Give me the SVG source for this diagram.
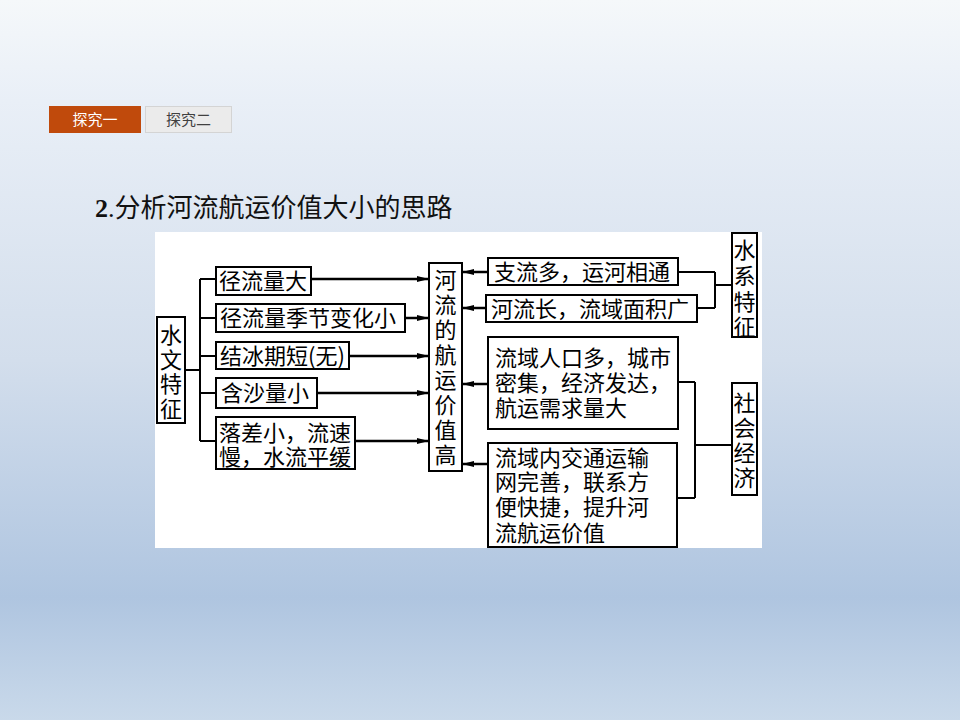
<svg xmlns="http://www.w3.org/2000/svg" width="960" height="720" viewBox="0 0 960 720">
<defs>
<linearGradient id="bg" x1="0" y1="0" x2="0" y2="1">
<stop offset="0" stop-color="#F5F8FA"/>
<stop offset="0.14" stop-color="#E9EFF7"/>
<stop offset="0.5" stop-color="#D3DEEC"/>
<stop offset="0.83" stop-color="#AFC5E0"/>
<stop offset="1" stop-color="#C9D9EA"/>
</linearGradient>
<marker id="arr" viewBox="0 0 12 8" refX="12" refY="4" markerWidth="12" markerHeight="8" markerUnits="userSpaceOnUse" orient="auto">
<path d="M0,1 L12,4 L0,7 z" fill="#000"/>
</marker>
<style>
.box{fill:#fff;stroke:#000;stroke-width:2}
.t{font-family:"Noto Sans CJK SC","Noto Sans CJK JP",sans-serif;font-size:22px;fill:#000}
.vt{font-family:"Noto Sans CJK SC","Noto Sans CJK JP",sans-serif;font-size:22px;fill:#000;writing-mode:vertical-rl}
.ln{fill:none;stroke:#000;stroke-width:2}
.ar{fill:none;stroke:#000;stroke-width:2.5;marker-end:url(#arr)}
.tab{font-family:"Noto Sans CJK SC","Microsoft YaHei",sans-serif;font-size:15px;text-anchor:middle}
</style>
</defs>
<rect x="0" y="0" width="960" height="720" fill="url(#bg)"/>

<g id="tab1">
<rect x="49" y="106" width="92" height="27" fill="#C04A0C"/>
<text class="tab" x="95" y="125" fill="#FFFFFF">探究一</text>
</g>
<g id="tab2">
<rect x="145.5" y="106.5" width="86" height="26" fill="#EBEBEB" stroke="#D4D4D4" stroke-width="1"/>
<text class="tab" x="188.5" y="125" fill="#404040">探究二</text>
</g>

<text x="95" y="217" font-size="26" fill="#111"><tspan font-family="'Liberation Serif',serif" font-weight="bold">2</tspan><tspan font-family="'Liberation Serif',serif">.</tspan><tspan font-family="'Noto Sans CJK SC',sans-serif">分析河流航运价值大小的思路</tspan></text>

<rect x="155" y="232" width="607" height="316" fill="#FFFFFF"/>

<g id="connectors">
<path class="ln" d="M185,370 H200 M200,279 V441 M200,279 H216 M200,318 H216 M200,356 H216 M200,393 H216 M200,441 H216"/>
<path class="ar" d="M311,279 H429"/>
<path class="ar" d="M405,318 H429"/>
<path class="ar" d="M349,356 H429"/>
<path class="ar" d="M317,393 H429"/>
<path class="ar" d="M355,441 H429"/>
<path class="ar" d="M488,272 H462"/>
<path class="ar" d="M486,308 H462"/>
<path class="ar" d="M488,384 H462"/>
<path class="ar" d="M488,464 H462"/>
<path class="ln" d="M678,272 H715 M697,308 H715 M715,272 V308 M715,285 H732"/>
<path class="ln" d="M678,382 H695 M677,498 H695 M695,382 V498 M695,445 H732"/>
</g>

<g id="n_shuiwen">
<rect class="box" x="157" y="317" width="28" height="106"/>
<text class="vt" x="171" y="324" letter-spacing="2.5">水文特征</text>
</g>
<g id="n_jl1">
<rect class="box" x="216" y="267" width="95" height="28"/>
<text class="t" x="219" y="289">径流量大</text>
</g>
<g id="n_jl2">
<rect class="box" x="216" y="304" width="189" height="28"/>
<text class="t" x="220" y="326">径流量季节变化小</text>
</g>
<g id="n_jb">
<rect class="box" x="216" y="342" width="133" height="27"/>
<text class="t" x="220" y="364">结冰期短(无)</text>
</g>
<g id="n_hs">
<rect class="box" x="216" y="378" width="101" height="30"/>
<text class="t" x="221" y="401">含沙量小</text>
</g>
<g id="n_lc">
<rect class="box" x="216" y="417" width="139" height="52"/>
<text class="t"><tspan x="219" y="441">落差小，流速</tspan><tspan x="219" y="465">慢，水流平缓</tspan></text>
</g>
<g id="n_center">
<rect class="box" x="429" y="263" width="33" height="208"/>
<text class="vt" x="445.5" y="269" letter-spacing="3">河流的航运价值高</text>
</g>
<g id="n_zl">
<rect class="box" x="488" y="258" width="190" height="27"/>
<text class="t" x="494" y="280">支流多，运河相通</text>
</g>
<g id="n_hl">
<rect class="box" x="486" y="295" width="211" height="27"/>
<text class="t" x="491" y="317">河流长，流域面积广</text>
</g>
<g id="n_rk">
<rect class="box" x="488" y="337" width="190" height="92"/>
<text class="t"><tspan x="495" y="366">流域人口多，城市</tspan><tspan x="495" y="391">密集，经济发达，</tspan><tspan x="495" y="416">航运需求量大</tspan></text>
</g>
<g id="n_jt">
<rect class="box" x="488" y="443" width="189" height="104"/>
<text class="t"><tspan x="495" y="466">流域内交通运输</tspan><tspan x="495" y="490">网完善，联系方</tspan><tspan x="495" y="515">便快捷，提升河</tspan><tspan x="495" y="541">流航运价值</tspan></text>
</g>
<g id="n_shuixi">
<rect class="box" x="732" y="233" width="25" height="104"/>
<text class="vt" x="744.5" y="239" letter-spacing="3.7">水系特征</text>
</g>
<g id="n_shehui">
<rect class="box" x="732" y="383" width="25" height="112"/>
<text class="vt" x="744.5" y="392" letter-spacing="3">社会经济</text>
</g>
</svg>
